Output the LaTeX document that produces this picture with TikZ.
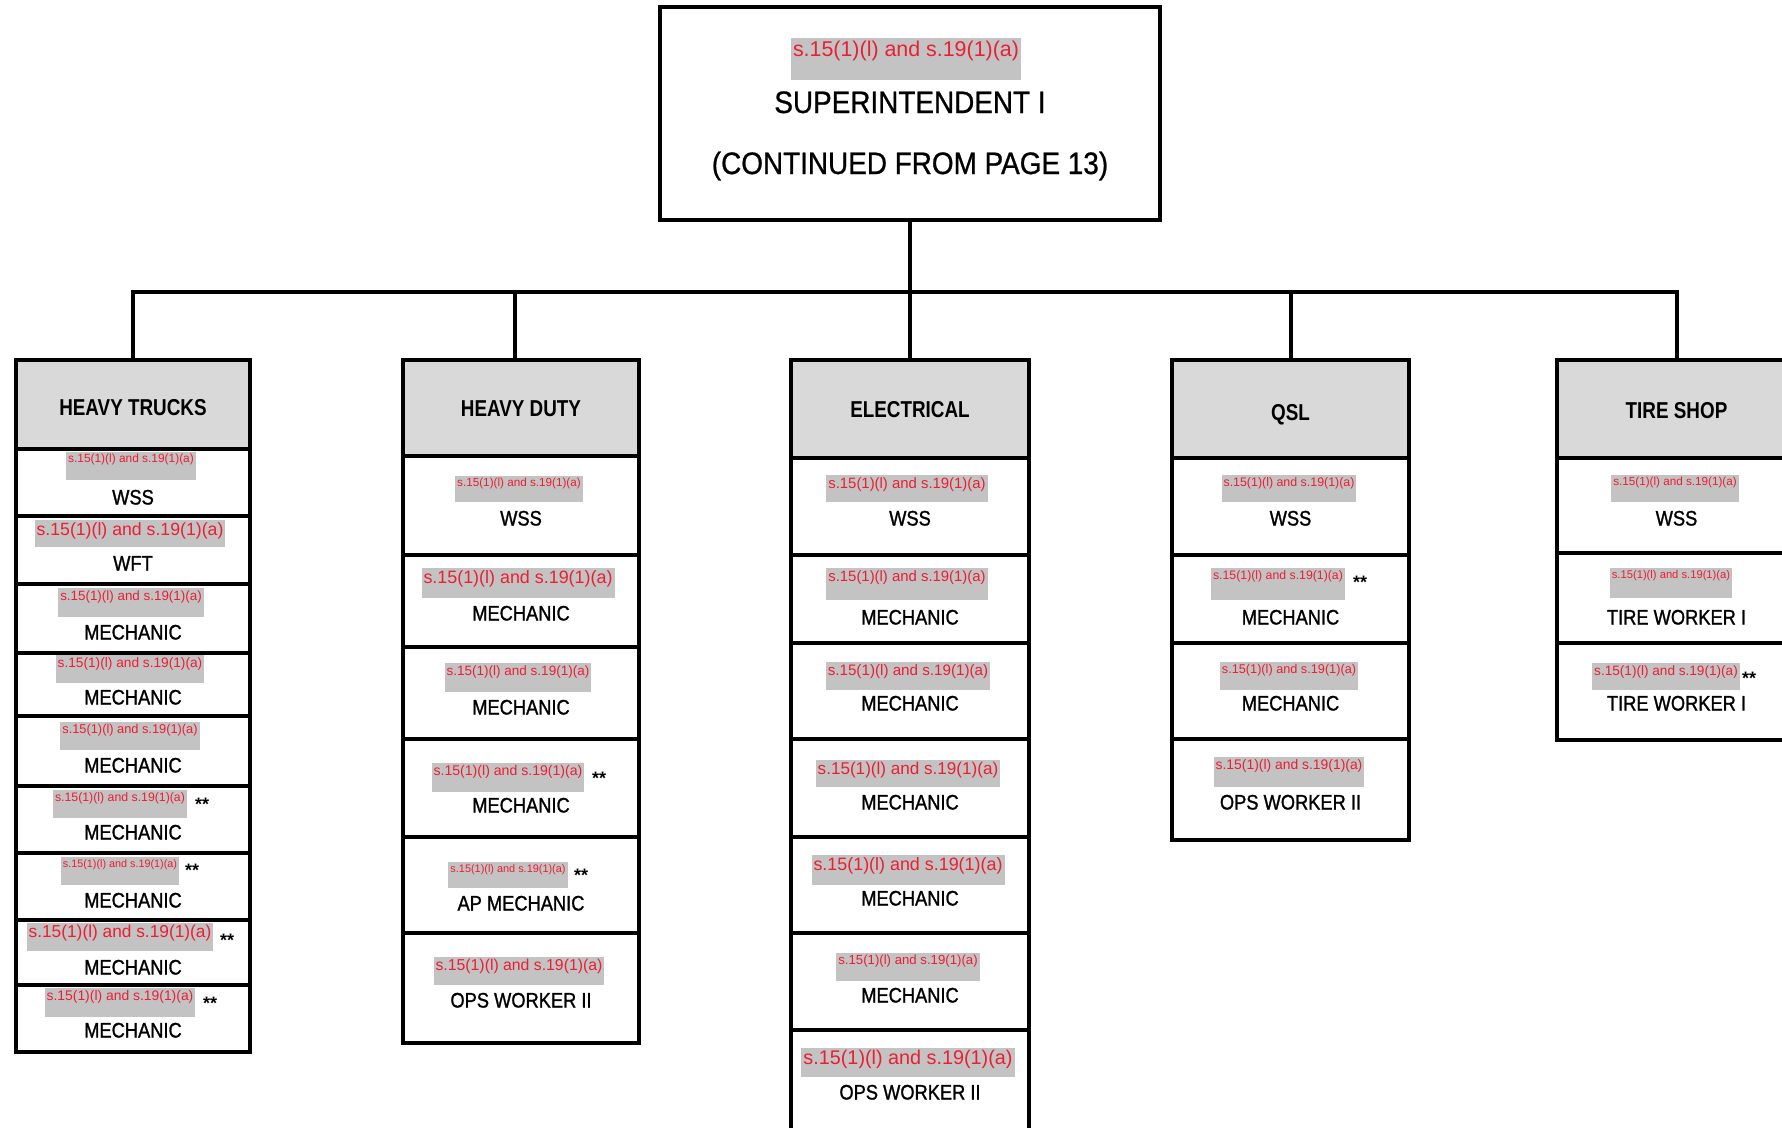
\documentclass[tikz,border=0pt]{standalone}
\usepackage{fontspec}
\setmainfont{Liberation Sans}
\newfontfamily\redfont{Liberation Sans}
\newfontfamily\labfont[FakeStretch=0.87,FakeBold=1.2]{Liberation Sans}
\newfontfamily\hdfont[FakeStretch=0.82]{Liberation Sans}
\newfontfamily\titfont[FakeStretch=0.9,FakeBold=0.8]{Liberation Sans}
\definecolor{hdrgray}{RGB}{217,217,217}
\definecolor{hlgray}{RGB}{195,195,195}
\definecolor{redc}{RGB}{235,30,50}
\tikzset{
 cellbox/.style={draw=black, line width=3.5pt, fill=white, rectangle, outer sep=0pt, inner sep=0pt, anchor=north west},
 hdrbox/.style={cellbox, fill=hdrgray},
 outerframe/.style={draw=black, line width=4.5pt},
 conn/.style={draw=black, line width=4pt},
 redlab/.style={fill=hlgray, text=redc, inner xsep=2pt, inner ysep=0pt, anchor=north, outer sep=0pt},
 stars/.style={anchor=base west, inner sep=0pt, font=\redfont\bfseries\fontsize{18}{18}\selectfont},
 lab/.style={anchor=base, inner sep=0pt, font=\labfont\fontsize{21}{21}\selectfont},
 hdtext/.style={anchor=base, inner sep=0pt, font=\hdfont\bfseries\fontsize{23}{23}\selectfont},
 tittext/.style={anchor=base, inner sep=0pt, font=\titfont\fontsize{31}{31}\selectfont},
}
\newcommand\orgcol[8]{%
 \pgfmathsetmacro\colw{#3-#2}%
 \pgfmathsetmacro\colc{(#2+#3)/2}%
 \pgfmathsetmacro\hdh{#4-360}%
 \node[hdrbox, minimum width=\colw pt, minimum height=\hdh pt] (#1h) at (#2,360) {};
 \node[hdtext] (#1ht) at (\colc,#5+8) {#6};
 \foreach \rt/\rb/\rx/\qa/\qb/\fz/\sx/\ly/\lab [count=\i] in {#8}{%
   \pgfmathsetmacro\cellh{\rb-\rt}%
   \node[cellbox, minimum width=\colw pt, minimum height=\cellh pt] (#1c\i) at (#2,\rt) {};
   \pgfmathsetmacro\myth{0.75*\fz+2}%
   \pgfmathsetmacro\mytd{\qb-\qa-\myth}%
   \node[redlab, font=\redfont\fontsize{\fz}{\fz}\selectfont, text height=\myth pt, text depth=\mytd pt] (#1r\i) at (\rx,\qa) {s.15(1)(l) and s.19(1)(a)};
   \ifnum\sx>0 \node[stars] (#1s\i) at (\sx,\qa+\myth+9) {**};\fi
   \node[lab] (#1l\i) at (\colc,\ly+7.5) {\lab};
 }%
 \draw[outerframe] (#2,360) rectangle (#3,#7);
}
\begin{document}
\begin{tikzpicture}[x=1pt,y=-1pt]
\clip (0,0) rectangle (1782,1127);
\fill[white] (0,0) rectangle (1782,1127);
% top box
\node[cellbox, line width=4pt, minimum width=500pt, minimum height=213pt] (top) at (660,7) {};
\node[redlab, font=\redfont\fontsize{21.4}{21.4}\selectfont, text height=18pt, text depth=24pt] (topr) at (906,38) {s.15(1)(l) and s.19(1)(a)};
\node[tittext] (topt1) at (910,113) {SUPERINTENDENT I};
\node[tittext] (topt2) at (910,174) {(CONTINUED FROM PAGE 13)};
% columns
\orgcol{A}{16}{250}{449}{407}{HEAVY TRUCKS}{1052}{
449/516/131/452/480/11.9/0/497/WSS,
516/584/130/520/547/17.7/0/563/WFT,
584/653/131/588/617/13.4/0/632/MECHANIC,
653/716/130/655/683/13.7/0/697/MECHANIC,
716/786/130/722/750/12.8/0/765/MECHANIC,
786/853/120/790/818/12.3/195/832/MECHANIC,
853/920/120/857/885/10.8/185/900/MECHANIC,
920/985/120/923/951/17.3/220/967/MECHANIC,
985/1052/120/988/1017/13.9/203/1030/MECHANIC}
\orgcol{B}{403}{639}{456}{408}{HEAVY DUTY}{1043}{
456/555/519/476/502/11.7/0/518/WSS,
555/647/518/568/598/17.9/0/613/MECHANIC,
647/739/518/663/692/13.5/0/707/MECHANIC,
739/837/508/763/792/14.1/592/805/MECHANIC,
837/933/508/862/888/10.9/574/903/AP MECHANIC,
933/1043/519/957/985/15.8/0/1000/OPS WORKER II}
\orgcol{C}{791}{1029}{458}{409}{ELECTRICAL}{1145}{
458/555/907/475/502/14.9/0/518/WSS,
555/643/907/568/600/14.9/0/617/MECHANIC,
643/739/908/662/690/15.2/0/703/MECHANIC,
739/837/908/760/787/17.1/0/802/MECHANIC,
837/933/908/855/885/17.9/0/898/MECHANIC,
933/1030/908/953/981/13.2/0/995/MECHANIC,
1030/1145/908/1048/1077/19.8/0/1092/OPS WORKER II}
\orgcol{D}{1172}{1409}{458}{412}{QSL}{840}{
458/555/1289/475/502/12.4/0/518/WSS,
555/643/1278/568/600/12.3/1353/617/MECHANIC,
643/739/1289/662/690/12.7/0/703/MECHANIC,
739/840/1289/757/787/13.9/0/802/OPS WORKER II}
\orgcol{E}{1557}{1796}{458}{410}{TIRE SHOP}{740}{
458/553/1675/475/502/11.7/0/518/WSS,
553/643/1671/568/598/11.2/0/617/TIRE WORKER I,
643/740/1666/663/690/13.6/1742/703/TIRE WORKER I}
% connectors
\coordinate (bus) at (910,292);
\coordinate (Bj) at ([xshift=-6pt]Bh.north);
\draw[conn] (top.south) -- (bus);
\draw[conn] (Ah.north) -- (Ah.north |- bus) -- (Eh.north |- bus) -- (Eh.north);
\draw[conn] (Bj |- bus) -- (Bj);
\draw[conn] (Ch.north |- bus) -- (Ch.north);
\draw[conn] (Dh.north |- bus) -- (Dh.north);
\end{tikzpicture}
\end{document}
